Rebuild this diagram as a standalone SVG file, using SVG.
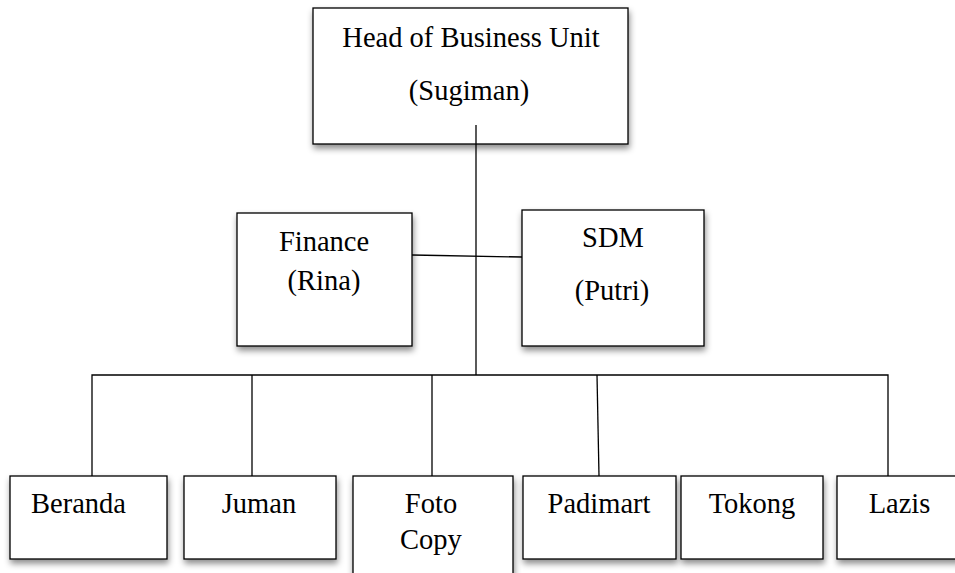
<svg xmlns="http://www.w3.org/2000/svg" width="955" height="573" viewBox="0 0 955 573">
<style>
.box{fill:#fff;stroke:#000;stroke-width:1.3;filter:url(#sh)}
.t{font-family:"Liberation Serif","Times New Roman",serif;font-size:28.5px;fill:#000;text-anchor:middle}
.c{stroke:#000;stroke-width:1.3;fill:none}
</style>
<defs>
<filter id="sh" x="-10%" y="-10%" width="130%" height="140%">
<feDropShadow dx="1" dy="4" stdDeviation="3" flood-color="#000" flood-opacity="0.45"/>
</filter>
</defs>
<rect width="955" height="573" fill="#fff"/>
<g id="head"><rect class="box" x="313" y="8" width="315" height="136"/>
<text class="t" x="471" y="47">Head of Business Unit</text>
<text class="t" x="469" y="100">(Sugiman)</text></g>
<g id="finance"><rect class="box" x="237" y="213" width="175" height="133"/>
<text class="t" x="324" y="251">Finance</text>
<text class="t" x="324" y="290">(Rina)</text></g>
<g id="sdm"><rect class="box" x="522" y="210" width="182" height="136"/>
<text class="t" x="613" y="247">SDM</text>
<text class="t" x="612" y="300">(Putri)</text></g>
<g id="beranda"><rect class="box" x="10" y="476" width="157" height="83"/>
<text class="t" x="78.5" y="513">Beranda</text></g>
<g id="juman"><rect class="box" x="184" y="476" width="152" height="83"/>
<text class="t" x="259" y="513">Juman</text></g>
<g id="fotocopy"><rect class="box" x="353" y="476" width="160" height="110"/>
<text class="t" x="431" y="513">Foto</text>
<text class="t" x="431" y="549">Copy</text></g>
<g id="padimart"><rect class="box" x="523" y="476" width="153" height="83"/>
<text class="t" x="599" y="513">Padimart</text></g>
<g id="tokong"><rect class="box" x="681" y="476" width="142" height="83"/>
<text class="t" x="752" y="513">Tokong</text></g>
<g id="lazis"><rect class="box" x="837" y="476" width="130" height="83"/>
<text class="t" x="899.5" y="513">Lazis</text></g>
<g id="connectors">
<path class="c" d="M476 125 V375"/>
<path class="c" d="M412 255 L522 257"/>
<path class="c" d="M92 476 V375 H888 V476"/>
<path class="c" d="M252 375 V476"/>
<path class="c" d="M432 375 V476"/>
<path class="c" d="M597 375 L599 476"/>
</g>
</svg>
